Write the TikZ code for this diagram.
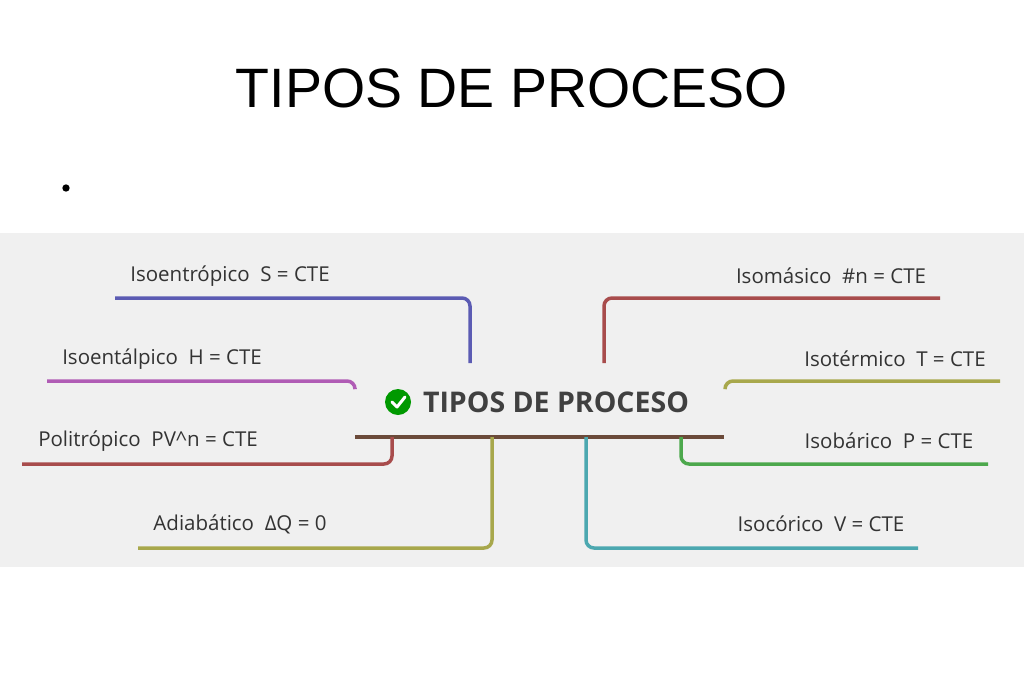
\documentclass[tikz,border=0pt]{standalone}
\usepackage{fontspec}
\setmainfont{Liberation Sans}
\newfontfamily\lbl{Open Sans}
\definecolor{cblue}{HTML}{5B5BB3}
\definecolor{cpurp}{HTML}{B05CB5}
\definecolor{cred}{HTML}{A84C4C}
\definecolor{colive}{HTML}{A8A84C}
\definecolor{cgreen}{HTML}{4CA84C}
\definecolor{cteal}{HTML}{4CA8B0}
\definecolor{cbrown}{HTML}{6B4A3A}
\begin{document}
\begin{tikzpicture}[x=1pt,y=-1pt,
  br/.style={line width=3.5pt,rounded corners=8pt},
  lab/.style={font=\lbl\fontsize{20.5}{24}\selectfont,text=black!80,inner sep=0pt}]
\useasboundingbox (0,0) rectangle (1024,683);
\fill[white] (0,0) rectangle (1024,683);
\fill[black!6] (0,233) rectangle (1024,567);
\node (title) at (512,88) {\fontsize{55.5}{60}\selectfont TIPOS DE PROCESO};
\node[circle,fill=black,inner sep=2.6pt] (bul) at (66,188) {};
% center
\node[font=\lbl\bfseries\fontsize{28.5}{32}\selectfont,text=black!75,inner sep=0pt] (ct) at (556,402) {TIPOS DE PROCESO};
\node[circle,fill=green!60!black,inner sep=0pt,minimum size=26pt] (chk) at (398,402) {};
\draw[white,line width=3pt,line cap=round,line join=round] (chk.center)+(-6,0) -- +(-1,5) -- +(7,-5);
\coordinate (c1) at (355,437); \coordinate (c2) at (724,437);
\draw[line width=4pt,color=cbrown] (c1) -- (c2);
% left
\coordinate (a0) at (115,298); \coordinate (a1) at (470,363);
\draw[br,color=cblue] (a0) -| (a1);
\node[lab] (la) at (230,276) {Isoentrópico~ S = CTE};
\coordinate (b0) at (47,381); \coordinate (b1) at (355,388);
\draw[br,color=cpurp] (b0) -| (b1);
\node[lab] (lb) at (162,359) {Isoentálpico~ H = CTE};
\coordinate (p0) at (22,464); \coordinate (p1) at (392,437);
\draw[br,color=cred] (p0) -| (p1);
\node[lab] (lp) at (148,441) {Politrópico~ PV\^{}n = CTE};
\coordinate (d0) at (138,548); \coordinate (d1) at (492,437);
\draw[br,color=colive] (d0) -| (d1);
\node[lab] (ld) at (240,524) {Adiabático~ ΔQ = 0};
% right
\coordinate (m0) at (940,298); \coordinate (m1) at (604,363);
\draw[br,color=cred] (m0) -| (m1);
\node[lab] (lm) at (831,276) {Isomásico~ \#n = CTE};
\coordinate (t0) at (1000,381); \coordinate (t1) at (725,388);
\draw[br,color=colive] (t0) -| (t1);
\node[lab] (lt) at (895,359) {Isotérmico~ T = CTE};
\coordinate (o0) at (988,464); \coordinate (o1) at (681,437);
\draw[br,color=cgreen] (o0) -| (o1);
\node[lab] (lo) at (889,441) {Isobárico~ P = CTE};
\coordinate (v0) at (918,548); \coordinate (v1) at (586,437);
\draw[br,color=cteal] (v0) -| (v1);
\node[lab] (lv) at (821,524) {Isocórico~ V = CTE};
\end{tikzpicture}
\end{document}
